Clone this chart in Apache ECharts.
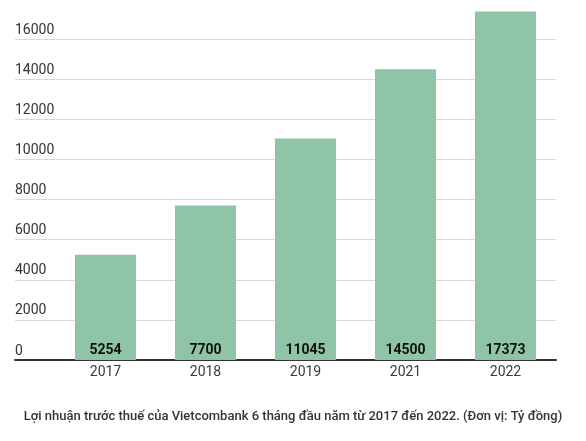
<!DOCTYPE html>
<html><head><meta charset="utf-8">
<script src="https://cdn.jsdelivr.net/npm/echarts@6/dist/echarts.min.js"></script>
<style>html,body{margin:0;padding:0;background:#fff}#c{width:586px;height:441px}</style>
</head><body><div id="c"></div>
<script>
const categories = ['2017','2018','2019','2021','2022'];
const profit = [5254, 7700, 11045, 14500, 17373];
const yTicks = {min: 0, max: 18000, interval: 2000};
const caption = 'Lợi nhuận trước thuế của Vietcombank 6 tháng đầu năm từ 2017 đến 2022. (Đơn vị: Tỷ đồng)';

const chart = echarts.init(document.getElementById('c'));
const FONT = 'Roboto';
chart.setOption({
  animation: false,
  textStyle: {fontFamily: FONT},
  title: {
    text: caption, left: 'center', top: 405,
    textStyle: {fontFamily: FONT, fontSize: 13, fontWeight: 500, color: '#333'}
  },
  grid: [
    {left: 15, right: 30, top: -1, bottom: 81, outerBoundsMode: 'none', containLabel: false},
    {left: 55.5, right: 30.5, top: -1, bottom: 81, outerBoundsMode: 'none', containLabel: false}
  ],
  xAxis: [
    {gridIndex: 0, type: 'category', data: [''],
     axisLine: {lineStyle: {color: '#333', width: 2}}, axisTick: {show: false}, axisLabel: {show: false}},
    {gridIndex: 1, type: 'category', data: categories,
     axisLine: {show: false}, axisTick: {show: false},
     axisLabel: {color: '#3a3a3a', fontSize: 14, margin: 5, fontFamily: FONT}}
  ],
  yAxis: [
    {gridIndex: 0, type: 'value', min: yTicks.min, max: yTicks.max, interval: yTicks.interval,
     axisLine: {show: false}, axisTick: {show: false},
     axisLabel: {inside: true, margin: 0, verticalAlign: 'bottom', padding: [0,0,2,0], showMaxLabel: false,
                 formatter: v => String(v),
                 color: '#333', fontSize: 14, fontFamily: FONT},
     splitLine: {lineStyle: {color: '#d9d9d9', width: 1}}},
    {gridIndex: 1, type: 'value', min: yTicks.min, max: yTicks.max, interval: yTicks.interval, show: false,
     splitLine: {show: false}}
  ],
  series: [{
    type: 'bar', xAxisIndex: 1, yAxisIndex: 1, data: profit, barWidth: 61,
    itemStyle: {color: '#8fc4a8'},
    label: {show: true, position: 'insideBottom', distance: 3, color: '#111', fontWeight: 'bold', fontSize: 14, fontFamily: FONT}
  }]
});
</script></body></html>
